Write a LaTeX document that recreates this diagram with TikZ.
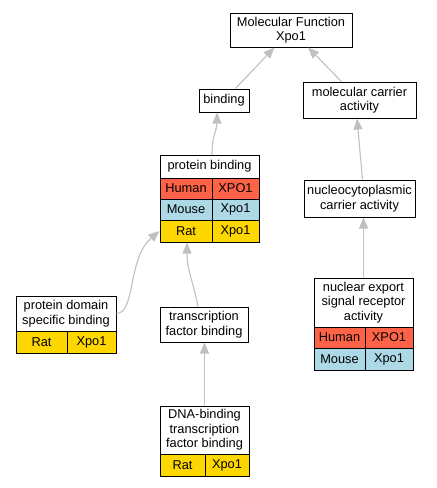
\documentclass[tikz,border=0pt]{standalone}
\usepackage{fontspec}
\setmainfont{Liberation Sans}
\usetikzlibrary{arrows.meta,calc}
\definecolor{humancol}{HTML}{FF6347}
\definecolor{mousecol}{HTML}{ADD8E6}
\definecolor{ratcol}{HTML}{FFD700}
\definecolor{edgegray}{HTML}{C0C0C0}
\tikzset{
  box/.style={draw=black, line width=1pt, fill=white, inner sep=0pt, align=center,
    font=\fontsize{12.8}{14.5}\selectfont},
  humancell/.style={box, fill=humancol},
  mousecell/.style={box, fill=mousecol},
  ratcell/.style={box, fill=ratcol},
  link/.style={draw=edgegray, line width=1.1pt, -{Triangle[length=11pt,width=9pt,fill=edgegray]}},
}
\begin{document}
\begin{tikzpicture}[x=1pt,y=-1pt]
\useasboundingbox (0,0) rectangle (437,488);
% top
\node[box, minimum width=122, minimum height=34] (mf) at (291,30) {Molecular Function\\Xpo1};
\node[box, minimum width=50, minimum height=23] (b) at (224,100.5) {binding};
\node[box, minimum width=113, minimum height=36] (carrier) at (359.5,100) {molecular carrier\\activity};
% protein binding
\node[box, minimum width=99, minimum height=23] (pb) at (209.5,166.5) {protein binding};
\node[humancell, minimum width=52, minimum height=21] (pbH1) at (186,188.5) {Human};
\node[humancell, minimum width=47, minimum height=21] (pbH2) at (235.5,188.5) {XPO1};
\node[mousecell, minimum width=52, minimum height=21] (pbM1) at (186,209.5) {Mouse};
\node[mousecell, minimum width=47, minimum height=21] (pbM2) at (235.5,209.5) {Xpo1};
\node[ratcell, minimum width=52, minimum height=22] (pbR1) at (186,231) {Rat};
\node[ratcell, minimum width=47, minimum height=22] (pbR2) at (235.5,231) {Xpo1};
% nucleocytoplasmic
\node[box, minimum width=111, minimum height=37] (nucleo) at (359.5,198.5) {nucleocytoplasmic\\carrier activity};
% protein domain specific binding
\node[box, minimum width=100, minimum height=35] (pdsb) at (66,313.5) {protein domain\\specific binding};
\node[ratcell, minimum width=51, minimum height=22] (pdsbR1) at (41.5,342) {Rat};
\node[ratcell, minimum width=49, minimum height=22] (pdsbR2) at (91.5,342) {Xpo1};
% transcription factor binding
\node[box, minimum width=88, minimum height=35] (tf) at (204,324.5) {transcription\\factor binding};
% nuclear export
\node[box, minimum width=99, minimum height=49] (nesr) at (363.5,302.5) {nuclear export\\signal receptor\\activity};
\node[humancell, minimum width=51, minimum height=21] (nesrH1) at (339.5,337.5) {Human};
\node[humancell, minimum width=48, minimum height=21] (nesrH2) at (389,337.5) {XPO1};
\node[mousecell, minimum width=51, minimum height=22] (nesrM1) at (339.5,359) {Mouse};
\node[mousecell, minimum width=48, minimum height=22] (nesrM2) at (389,359) {Xpo1};
% DNA-binding
\node[box, minimum width=89, minimum height=48] (dna) at (204.5,430) {DNA-binding\\transcription\\factor binding};
\node[ratcell, minimum width=45, minimum height=22] (dnaR1) at (182.5,465) {Rat};
\node[ratcell, minimum width=44, minimum height=22] (dnaR2) at (227,465) {Xpo1};
% edges
\draw[link] (b) -- (mf);
\draw[link] (carrier) -- (mf);
\draw[link] ([xshift=2.5pt]pb.north) .. controls ([xshift=2.5pt,yshift=20pt]pb.north) and ([xshift=-7pt,yshift=-18pt]b.south) .. ([xshift=-7pt]b.south);
\draw[link] ([xshift=3pt]nucleo.north) -- ([xshift=-2.5pt]carrier.south);
\draw[link] (nesr.north) -- (nesr.north |- nucleo.south);
\draw[link] (pdsb.east) .. controls ([xshift=19pt]pdsb.east) and ([xshift=-32pt,yshift=-27pt]pbR1.west) .. (pbR1.west);
\draw[link] ([xshift=-6pt]tf.north) .. controls ([xshift=-10pt,yshift=22pt]tf.north) and ([xshift=1pt,yshift=-28pt]pbR1.south) .. ([xshift=1pt]pbR1.south);
\draw[link] (dna.north) -- (dna.north |- tf.south);
\end{tikzpicture}
\end{document}
